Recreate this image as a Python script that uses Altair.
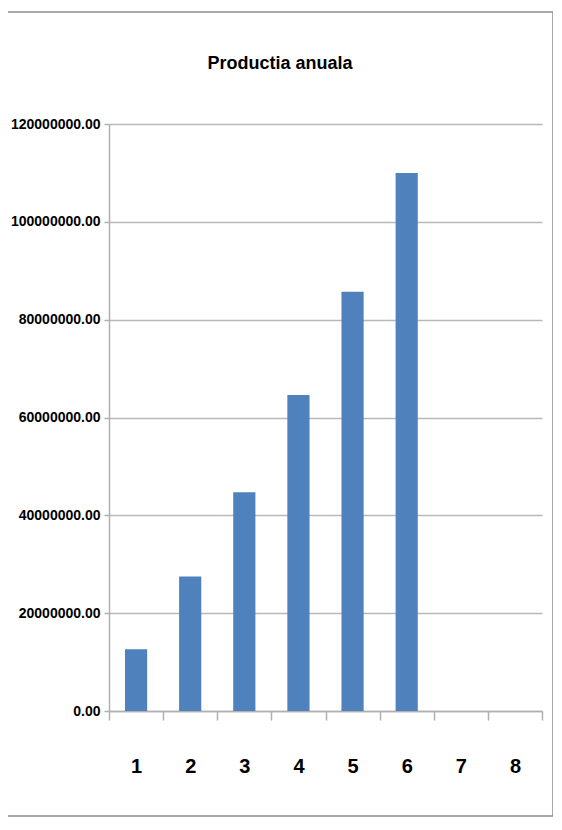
import altair as alt
import pandas as pd

categories = ["1", "2", "3", "4", "5", "6", "7", "8"]
values = [12.6e6, 27.5e6, 44.7e6, 64.6e6, 85.7e6, 110.0e6, 0, 0]
y_ticks = [0, 20e6, 40e6, 60e6, 80e6, 100e6, 120e6]
title_text = "Productia anuala"

df = pd.DataFrame({"cat": categories, "val": values})

FONT = "Liberation Sans"

bars = alt.Chart(df).mark_bar(color="#4f81bd", width=alt.RelativeBandSize(0.41)).encode(
    x=alt.X("cat:N", sort=categories, title=None,
            scale=alt.Scale(paddingInner=0, paddingOuter=0),
            axis=alt.Axis(labelAngle=0, labelPadding=46, labelBaseline="middle",
                          labelFont=FONT, labelFontSize=20,
                          labelFontWeight="bold", labelColor="#000",
                          domainColor="#b0b0b0", domainWidth=1.5, tickColor="#b0b0b0",
                          tickWidth=1.5, tickSize=9, tickBand="extent", grid=False)),
    y=alt.Y("val:Q", title=None,
            scale=alt.Scale(domain=[0, 120e6], nice=False),
            axis=alt.Axis(values=y_ticks, format=".2f", labelFont=FONT, labelFontSize=14,
                          labelFontWeight="bold", labelColor="#000", labelPadding=4,
                          domainColor="#b0b0b0", domainWidth=1.5, tickColor="#b0b0b0",
                          tickWidth=1.5, tickSize=5, gridColor="#b8b8b8", gridWidth=1.5)),
)

border = alt.Chart(alt.Data(values=[{}])).mark_rect(
    fill=None, stroke="#8c8c8c", strokeWidth=1.5
).encode(
    x=alt.value(-104), x2=alt.value(444), y=alt.value(-112), y2=alt.value(692)
)

title = alt.Chart(alt.Data(values=[{"t": title_text}])).mark_text(
    font=FONT, fontSize=18, fontWeight="bold", color="#000", align="center", baseline="middle"
).encode(
    text="t:N", x=alt.value(171), y=alt.value(-60)
)

chart = alt.layer(border, bars, title).properties(
    width=433, height=587,
    autosize=alt.AutoSizeParams(type="none"),
    padding={"left": 101, "top": 116, "right": 11, "bottom": 106},
).configure_view(stroke=None)

chart.save("out.html", embed_options={"renderer": "svg", "actions": False})
